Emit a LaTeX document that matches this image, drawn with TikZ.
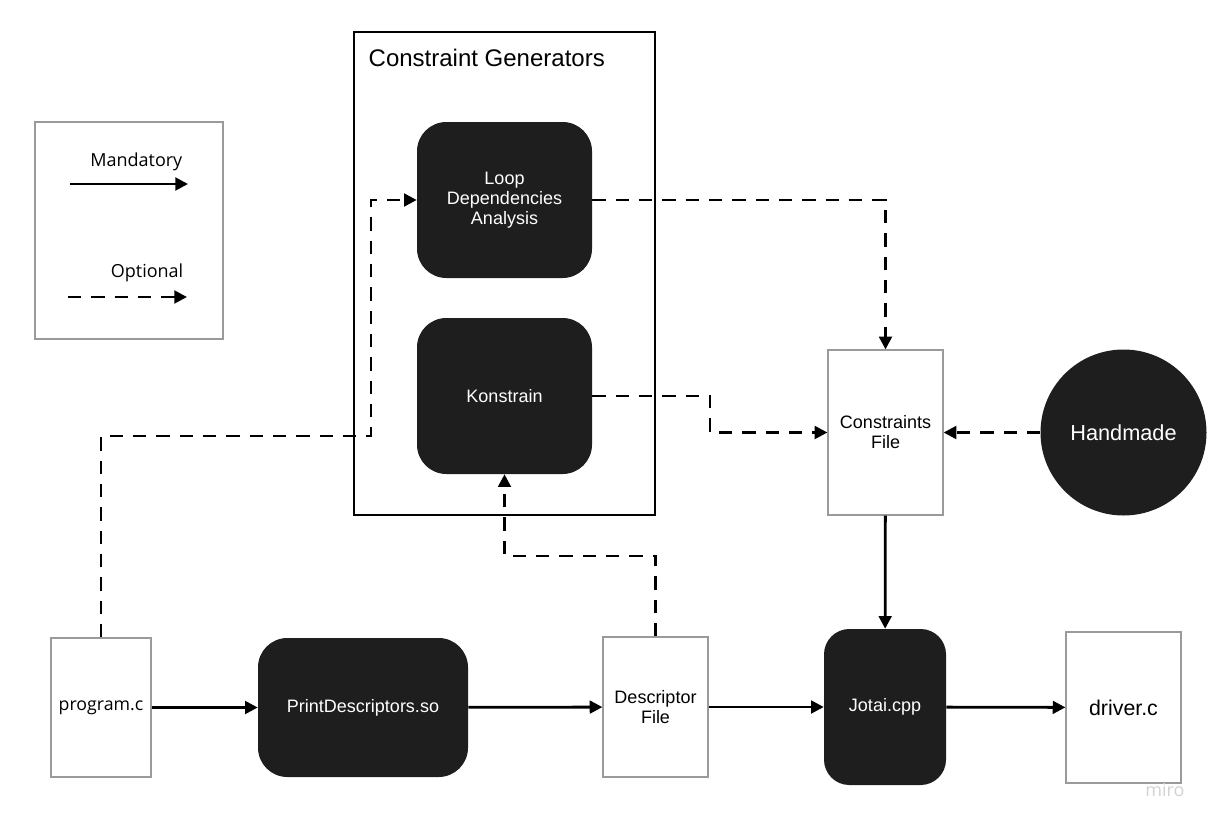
\documentclass[tikz,border=0pt]{standalone}
\usepackage{fontspec}
\setmainfont{Liberation Sans}
\newfontfamily\opensans{Open Sans}
\usetikzlibrary{arrows.meta}
\definecolor{toolfill}{HTML}{1E1E1E}
\definecolor{fileline}{HTML}{9A9A9A}

\begin{document}
\begin{tikzpicture}[x=0.75pt,y=-0.75pt]

\tikzset{tool/.style = {shape=rectangle,rounded corners=22pt,fill=toolfill,text=white,align=center,inner sep=0pt}}
\tikzset{file/.style = {shape=rectangle,draw=fileline,line width=0.9pt,align=center,inner sep=0pt}}
\tikzset{txt/.style = {font=\fontsize{13.5pt}{15pt}\selectfont}}
\tikzset{edge/.style = {-{Triangle[length=9.5pt,width=9.5pt]},line width=2.1pt}}
\tikzset{optedge/.style = {edge,dash pattern=on 10pt off 7.5pt}}
\useasboundingbox (0,0) rectangle (1213,824);
%legend
\node[file, minimum width=141pt, minimum height=162.75pt] (legend) at (129,230.5) {};
\node[anchor=east, font=\opensans\fontsize{13.5pt}{15pt}\selectfont] (mandatory) at (187,162) {Mandatory};
\node[anchor=east, font=\opensans\fontsize{13.5pt}{15pt}\selectfont] (optional) at (188,273) {Optional};
\coordinate (m1) at (70,184);
\coordinate (m2) at (188,184);
\coordinate (o1) at (68,297);
\coordinate (o2) at (187,297);
%verticies
\node[draw, line width=1.1pt, minimum width=225.75pt, minimum height=362.25pt] (cg) at (504.5,273.5) {};
\node[anchor=west, font=\fontsize{18pt}{20pt}\selectfont] (cgtitle) at (364,58) {Constraint Generators};
\node[tool, txt, minimum width=131.25pt, minimum height=117pt] (loop) at (504.5,200) {Loop\\Dependencies\\Analysis};
\node[tool, txt, minimum width=131.25pt, minimum height=117pt] (konstrain) at (504.5,396) {Konstrain};
\node[file, txt, minimum width=86.25pt, minimum height=123.75pt] (cfile) at (885.5,432.5) {Constraints\\File};
\node[shape=circle, fill=toolfill, text=white, minimum size=124.5pt, inner sep=0pt, font=\fontsize{16.3pt}{18pt}\selectfont] (handmade) at (1123.5,432.5) {Handmade};
\node[file, minimum width=75pt, minimum height=104.25pt, font=\opensans\fontsize{13.3pt}{15pt}\selectfont] (program) at (101,707.5) {program.c};
\node[tool, txt, minimum width=157.5pt, minimum height=104.25pt] (printdesc) at (363,707.5) {PrintDescriptors.so};
\node[file, txt, minimum width=78.75pt, minimum height=105pt] (descfile) at (655.5,707) {Descriptor\\File};
\node[tool, txt, rounded corners=19pt, minimum width=91.5pt, minimum height=117pt] (jotai) at (885,707) {Jotai.cpp};
\node[file, minimum width=86.25pt, minimum height=113.25pt, font=\fontsize{16pt}{19pt}\selectfont] (driver) at (1123.5,707.5) {driver.c};
\node[text=gray!35, font=\opensans\fontsize{13.5pt}{15pt}\selectfont] (miro) at (1165,790) {miro};
%bends
\coordinate (b1) at (371,436);
\coordinate (b2) at (710,396);
\coordinate (b3) at (655.5,556);
%edges
\draw[edge] (m1) -- (m2);
\draw[optedge] (o1) -- (o2);
\draw[edge] (program) -- (printdesc);
\draw[edge] (printdesc) -- (descfile);
\draw[edge] (descfile) -- (jotai);
\draw[edge] (jotai) -- (driver);
\draw[edge] (cfile) -- (jotai);
\draw[optedge] (handmade) -- (cfile);
\draw[optedge] (loop.east) -| (cfile.north);
\draw[optedge] (konstrain.east) -- (b2) |- (cfile.west);
\draw[optedge] (descfile.north) -- (b3) -| (konstrain.south);
\draw[optedge] (program.north) |- (b1) |- (loop.west);

\end{tikzpicture}
\end{document}
